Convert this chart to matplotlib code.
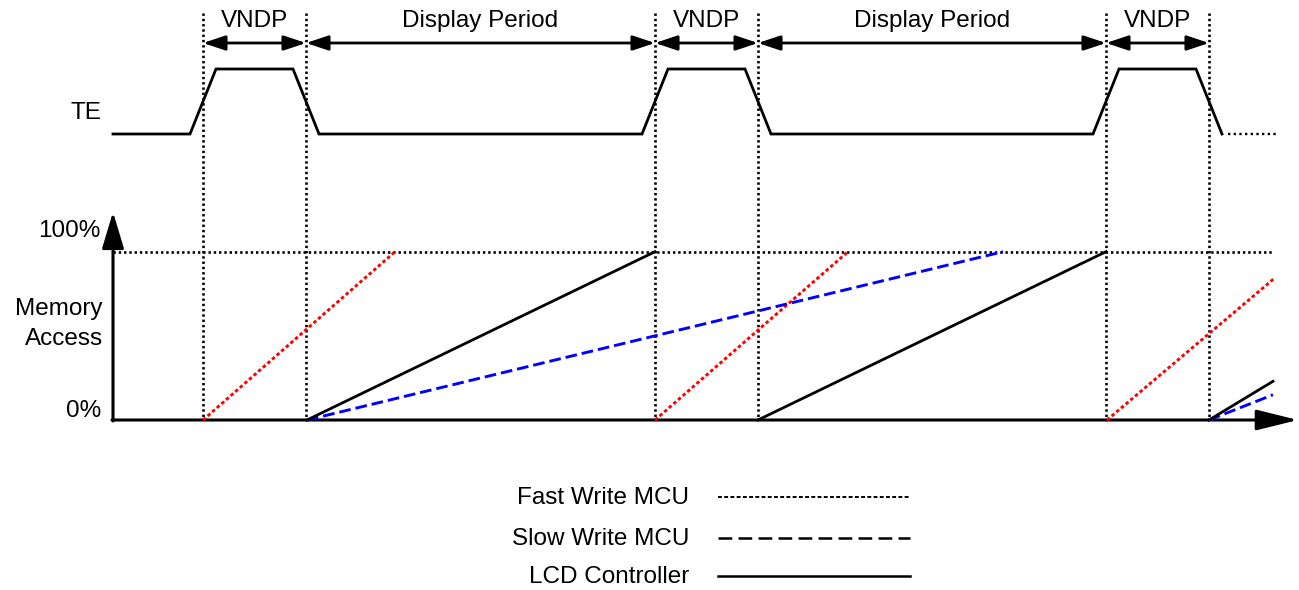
import matplotlib
matplotlib.use("Agg")
import matplotlib.pyplot as plt

plt.rcParams['font.family'] = ['Liberation Sans', 'DejaVu Sans']

W, H = 1299, 590
FS = 17.5

# time marks along the horizontal axis (drawing units)
BOUNDS = [203, 306, 655, 758, 1106, 1209]
PERIOD_LABELS = ["VNDP", "Display Period", "VNDP", "Display Period", "VNDP"]
EDGE = 13          # half width of a TE edge
TE_START = 113
TE_TAIL = (1228, 1278)

# memory access ramps: (start time, end time, end level in %)
FAST_WRITE = [(203, 395, 100), (655, 848, 100), (1107, 1274, 84)]
SLOW_WRITE = [(307, 1003, 100), (1209, 1273, 15)]
LCD_CTRL = [(307, 655, 100), (758, 1106, 100), (1209, 1273, 23)]

LEGEND_NAMES = ["Fast Write MCU", "Slow Write MCU", "LCD Controller"]

fig = plt.figure(figsize=(W / 100, H / 100), dpi=100)

# overlay in drawing units for text, arrows, grid
ax = fig.add_axes([0, 0, 1, 1])
ax.set_xlim(0, W)
ax.set_ylim(H, 0)
ax.axis("off")

# memory access panel: 0% at y=420, 100% at y=251.7
y0, y100 = 420, 251.7
mem = fig.add_axes([0, (H - y0) / H, 1, (y0 - y100) / H])
mem.set_xlim(0, W)
mem.set_ylim(0, 100)
mem.axis("off")
mem.patch.set_alpha(0)

# TE panel: low at y=134, high at y=69
te_lo, te_hi = 134, 69
te = fig.add_axes([0, (H - te_lo) / H, 1, (te_lo - te_hi) / H])
te.set_xlim(0, W)
te.set_ylim(0, 1)
te.axis("off")
te.patch.set_alpha(0)

# TE waveform
tx, ty = [TE_START], [0]
for i in range(0, len(BOUNDS), 2):
    r, f = BOUNDS[i], BOUNDS[i + 1]
    tx += [r - EDGE, r + EDGE, f - EDGE, f + EDGE]
    ty += [0, 1, 1, 0]
te.plot(tx, ty, color="black", lw=2, solid_joinstyle="miter", clip_on=False)
te.plot(TE_TAIL, [0, 0], color="black", lw=1.7, linestyle=(0, (1, 1.4)), clip_on=False)

# vertical dotted markers
dot = dict(color="black", lw=1.9, linestyle=(0, (0.9, 1.1)))
for b in BOUNDS:
    ax.plot([b, b], [13, y0], **dot)

# 100% reference line
mem.plot([113, 1272], [100, 100], clip_on=False, **dot)

# period span arrows and labels
for i, lab in enumerate(PERIOD_LABELS):
    a, b = BOUNDS[i], BOUNDS[i + 1]
    ax.annotate("", xy=(a, 43), xytext=(b, 43),
                arrowprops=dict(arrowstyle="<|-|>,head_length=0.9,head_width=0.3",
                                color="black", lw=2, shrinkA=0, shrinkB=0,
                                mutation_scale=15))
    ax.text((a + b) / 2, 21, lab, ha="center", va="center", fontsize=FS)

# memory access lines
for s, e, lv in FAST_WRITE:
    mem.plot([s, e], [0, lv], color="#ff0000", lw=2.1, linestyle=(0, (1.2, 0.9)), clip_on=False)
for s, e, lv in SLOW_WRITE:
    mem.plot([s, e], [0, lv], color="#0000ff", lw=2.1, linestyle=(0, (4, 1.7)), clip_on=False)
for s, e, lv in LCD_CTRL:
    mem.plot([s, e], [0, lv], color="black", lw=2, clip_on=False)

# axes with arrows
ax.annotate("", xy=(113, 212), xytext=(113, 421),
            arrowprops=dict(arrowstyle="-|>,head_length=1.5,head_width=0.45",
                            color="black", lw=2.2, shrinkA=0, shrinkB=0,
                            mutation_scale=15))
ax.annotate("", xy=(1298, 420), xytext=(112, 420),
            arrowprops=dict(arrowstyle="-|>,head_length=1.7,head_width=0.42",
                            color="black", lw=2.2, shrinkA=0, shrinkB=0,
                            mutation_scale=15))

# labels
ax.text(101, 113, "TE", ha="right", va="center", fontsize=FS)
ax.text(101, 231, "100%", ha="right", va="center", fontsize=FS)
ax.text(101, 411, "0%", ha="right", va="center", fontsize=FS)
ax.text(103, 324, "Memory\nAccess", ha="right", va="center", fontsize=FS,
        multialignment="right", linespacing=1.5)

# legend
leg_y = [497, 538, 576]
leg_styles = [dict(lw=1.4, linestyle=(0, (2, 1.2))),
              dict(lw=1.8, linestyle=(0, (5.5, 2.5))),
              dict(lw=1.8, linestyle="-")]
for name, yy, st in zip(LEGEND_NAMES, leg_y, leg_styles):
    ax.text(689, yy + 1, name, ha="right", va="center", fontsize=FS)
    ax.plot([718, 910], [yy, yy], color="black", **st)

fig.savefig("out.png", dpi=100)
